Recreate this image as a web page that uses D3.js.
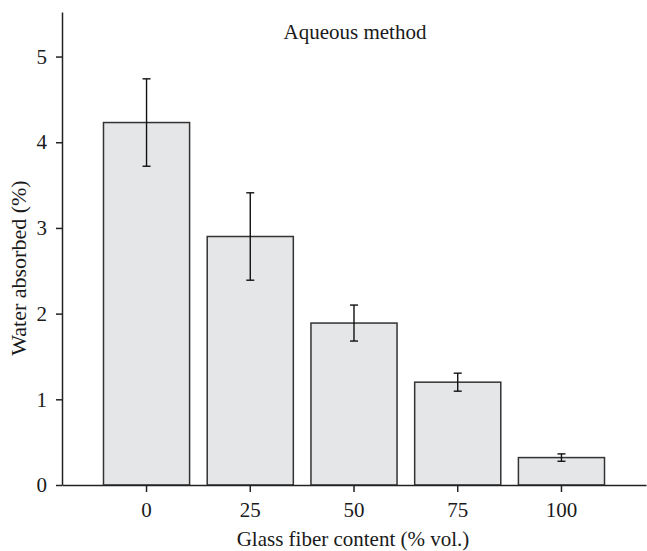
<!DOCTYPE html>
<html>
<head>
<meta charset="utf-8">
<script src="https://cdn.jsdelivr.net/npm/d3@7"></script>
<style>
	body { margin: 0; background: white; }
	svg text { font-family: "Liberation Serif", "Times New Roman", serif; fill: #1a1a1a; }
</style>
</head>
<body>
<div id="chart"></div>
<script>
(function() {
	"use strict";

	var WIDTH = 647;
	var HEIGHT = 551;
	var FONT_SIZE = 21;

	var fiberContents = ['0', '25', '50', '75', '100'];
	var waterAbsorbed = [4.23, 2.90, 1.89, 1.20, 0.32];
	var deviations = [0.51, 0.51, 0.21, 0.105, 0.043];
	var yTicks = [0, 1, 2, 3, 4, 5];

	var svg = d3.select('#chart').append('svg')
		.attr('width', WIDTH)
		.attr('height', HEIGHT);

	var x = d3.scaleBand()
		.domain(fiberContents)
		.range([62, 646])
		.paddingInner(0.17)
		.paddingOuter(0.4);

	var y = d3.scaleLinear()
		.domain([0, 5.52])
		.range([485, 12]);

	var bars = fiberContents.map(function (content, index) {
		return { content: content, value: waterAbsorbed[index], deviation: deviations[index] };
	});

	svg.selectAll('.bar')
		.data(bars)
		.enter()
		.append('rect')
		.classed('bar', true)
		.attr('x', function (bar) { return x(bar.content); })
		.attr('y', function (bar) { return y(bar.value); })
		.attr('width', x.bandwidth())
		.attr('height', function (bar) { return y(0) - y(bar.value); })
		.attr('fill', '#e5e6e8')
		.attr('stroke', '#333')
		.attr('stroke-width', 1.5);

	var errorBars = svg.selectAll('.error-bar')
		.data(bars)
		.enter()
		.append('g')
		.classed('error-bar', true)
		.attr('transform', function (bar) {
			return 'translate(' + (x(bar.content) + x.bandwidth() / 2) + ')';
		})
		.attr('stroke', '#111')
		.attr('stroke-width', 1.4);

	errorBars.append('line')
		.attr('y1', function (bar) { return y(bar.value + bar.deviation); })
		.attr('y2', function (bar) { return y(bar.value - bar.deviation); });

	[1, -1].forEach(function (side) {
		errorBars.append('line')
			.attr('x1', -4)
			.attr('x2', 4)
			.attr('y1', function (bar) { return y(bar.value + side * bar.deviation); })
			.attr('y2', function (bar) { return y(bar.value + side * bar.deviation); });
	});

	var xAxis = svg.append('g')
		.attr('transform', 'translate(0,' + y(0) + ')')
		.call(d3.axisBottom(x).tickSize(7).tickSizeOuter(0).tickPadding(10));

	var yAxis = svg.append('g')
		.attr('transform', 'translate(62,0)')
		.call(d3.axisLeft(y).tickValues(yTicks).tickFormat(d3.format('d'))
			.tickSize(6).tickSizeOuter(0).tickPadding(9));

	[xAxis, yAxis].forEach(function (axis) {
		axis.selectAll('path, line').attr('stroke', '#222').attr('stroke-width', 1.5);
		axis.selectAll('text')
			.attr('font-size', FONT_SIZE)
			.attr('font-family', '"Liberation Serif", "Times New Roman", serif')
			.attr('fill', '#1a1a1a');
	});

	svg.append('text')
		.attr('x', 355)
		.attr('y', 39)
		.attr('text-anchor', 'middle')
		.attr('font-size', FONT_SIZE)
		.text('Aqueous method');

	svg.append('text')
		.attr('x', 353)
		.attr('y', 546)
		.attr('text-anchor', 'middle')
		.attr('font-size', FONT_SIZE)
		.text('Glass fiber content (% vol.)');

	svg.append('text')
		.attr('transform', 'translate(26,268) rotate(-90)')
		.attr('text-anchor', 'middle')
		.attr('font-size', 22)
		.text('Water absorbed (%)');
}());
</script>
</body>
</html>
